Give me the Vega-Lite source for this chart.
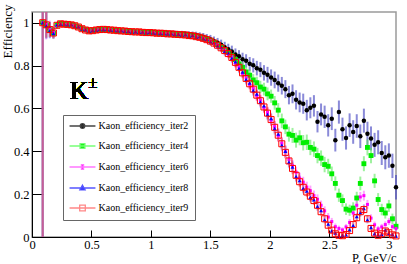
{
"$schema":"https://vega.github.io/schema/vega-lite/v6.json",
"width":364,"height":225,
"autosize":"none",
"padding":{"left":32,"top":12,"right":11,"bottom":27},
"background":"white",
"config":{
 "font":"Liberation Serif",
 "view":{"stroke":"#9a9a9a","strokeWidth":1.5},
 "axis":{"labelFont":"Liberation Serif","titleFont":"Liberation Serif","labelColor":"black","titleColor":"black","domainColor":"black","tickColor":"black","grid":false,"titleFontWeight":"normal","labelFontSize":12.5,"titleFontSize":12.5,"labelFlush":false,"labelOverlap":false},
 "legend":{"orient":"none","legendX":31,"legendY":103,"title":null,"padding":6,"strokeColor":"#666","fillColor":"white","labelFont":"Liberation Serif","labelFontSize":10,"labelColor":"black","rowPadding":9,"symbolSize":49,"symbolOffset":8.5,"labelOffset":11,"symbolStrokeWidth":1.3,"symbolOpacity":1}
},
"datasets":{"d":[
{"s":2,"x":0.09,"y":1.000,"e":1.0},{"s":2,"x":0.12,"y":0.991,"e":0.06},{"s":2,"x":0.15,"y":0.969,"e":0.035},{"s":2,"x":0.18,"y":0.953,"e":0.025},{"s":2,"x":0.21,"y":0.988,"e":0.014},{"s":2,"x":0.24,"y":0.996,"e":0.012},{"s":2,"x":0.27,"y":0.993,"e":0.011},{"s":2,"x":0.30,"y":0.992,"e":0.01},{"s":2,"x":0.33,"y":0.991,"e":0.01},{"s":2,"x":0.36,"y":0.986,"e":0.01},
{"s":2,"x":0.39,"y":0.981,"e":0.009},{"s":2,"x":0.42,"y":0.973,"e":0.009},{"s":2,"x":0.45,"y":0.967,"e":0.008},{"s":2,"x":0.48,"y":0.963,"e":0.008},{"s":2,"x":0.51,"y":0.964,"e":0.008},{"s":2,"x":0.54,"y":0.967,"e":0.008},{"s":2,"x":0.57,"y":0.969,"e":0.008},{"s":2,"x":0.60,"y":0.970,"e":0.008},{"s":2,"x":0.63,"y":0.969,"e":0.008},{"s":2,"x":0.66,"y":0.967,"e":0.008},
{"s":2,"x":0.69,"y":0.966,"e":0.008},{"s":2,"x":0.72,"y":0.964,"e":0.008},{"s":2,"x":0.75,"y":0.963,"e":0.008},{"s":2,"x":0.78,"y":0.962,"e":0.008},{"s":2,"x":0.81,"y":0.960,"e":0.008},{"s":2,"x":0.84,"y":0.959,"e":0.009},{"s":2,"x":0.87,"y":0.958,"e":0.009},{"s":2,"x":0.90,"y":0.958,"e":0.009},{"s":2,"x":0.93,"y":0.957,"e":0.009},{"s":2,"x":0.96,"y":0.956,"e":0.009},
{"s":2,"x":0.99,"y":0.956,"e":0.01},{"s":2,"x":1.02,"y":0.955,"e":0.01},{"s":2,"x":1.05,"y":0.954,"e":0.01},{"s":2,"x":1.08,"y":0.954,"e":0.011},{"s":2,"x":1.11,"y":0.953,"e":0.011},{"s":2,"x":1.14,"y":0.952,"e":0.012},{"s":2,"x":1.17,"y":0.951,"e":0.012},{"s":2,"x":1.20,"y":0.950,"e":0.013},{"s":2,"x":1.23,"y":0.949,"e":0.013},{"s":2,"x":1.26,"y":0.948,"e":0.014},
{"s":2,"x":1.29,"y":0.947,"e":0.014},{"s":2,"x":1.32,"y":0.945,"e":0.015},{"s":2,"x":1.35,"y":0.943,"e":0.016},{"s":2,"x":1.38,"y":0.941,"e":0.017},{"s":2,"x":1.41,"y":0.937,"e":0.018},{"s":2,"x":1.44,"y":0.933,"e":0.019},{"s":2,"x":1.47,"y":0.927,"e":0.02},{"s":2,"x":1.50,"y":0.922,"e":0.021},{"s":2,"x":1.53,"y":0.914,"e":0.022},{"s":2,"x":1.56,"y":0.906,"e":0.023},
{"s":2,"x":1.59,"y":0.897,"e":0.024},{"s":2,"x":1.62,"y":0.886,"e":0.025},{"s":2,"x":1.65,"y":0.876,"e":0.026},{"s":2,"x":1.68,"y":0.866,"e":0.027},{"s":2,"x":1.71,"y":0.852,"e":0.028},{"s":2,"x":1.74,"y":0.843,"e":0.029},{"s":2,"x":1.77,"y":0.830,"e":0.03},{"s":2,"x":1.80,"y":0.822,"e":0.031},{"s":2,"x":1.83,"y":0.808,"e":0.032},{"s":2,"x":1.86,"y":0.801,"e":0.033},
{"s":2,"x":1.89,"y":0.788,"e":0.034},{"s":2,"x":1.92,"y":0.781,"e":0.035},{"s":2,"x":1.95,"y":0.766,"e":0.036},{"s":2,"x":1.98,"y":0.757,"e":0.037},{"s":2,"x":2.01,"y":0.744,"e":0.038},{"s":2,"x":2.04,"y":0.733,"e":0.039},{"s":2,"x":2.07,"y":0.718,"e":0.04},{"s":2,"x":2.10,"y":0.706,"e":0.041},{"s":2,"x":2.13,"y":0.690,"e":0.042},{"s":2,"x":2.16,"y":0.662,"e":0.043},
{"s":2,"x":2.19,"y":0.668,"e":0.044},{"s":2,"x":2.22,"y":0.640,"e":0.045},{"s":2,"x":2.25,"y":0.628,"e":0.046},{"s":2,"x":2.28,"y":0.622,"e":0.047},{"s":2,"x":2.31,"y":0.592,"e":0.048},{"s":2,"x":2.34,"y":0.603,"e":0.049},{"s":2,"x":2.37,"y":0.612,"e":0.05},{"s":2,"x":2.40,"y":0.538,"e":0.05},{"s":2,"x":2.43,"y":0.572,"e":0.051},{"s":2,"x":2.46,"y":0.561,"e":0.052},
{"s":2,"x":2.49,"y":0.521,"e":0.052},{"s":2,"x":2.52,"y":0.552,"e":0.053},{"s":2,"x":2.55,"y":0.452,"e":0.053},{"s":2,"x":2.58,"y":0.583,"e":0.054},{"s":2,"x":2.61,"y":0.503,"e":0.054},{"s":2,"x":2.64,"y":0.462,"e":0.054},{"s":2,"x":2.67,"y":0.522,"e":0.055},{"s":2,"x":2.70,"y":0.490,"e":0.055},{"s":2,"x":2.73,"y":0.518,"e":0.055},{"s":2,"x":2.76,"y":0.470,"e":0.055},
{"s":2,"x":2.79,"y":0.543,"e":0.056},{"s":2,"x":2.82,"y":0.482,"e":0.056},{"s":2,"x":2.85,"y":0.460,"e":0.056},{"s":2,"x":2.88,"y":0.430,"e":0.056},{"s":2,"x":2.91,"y":0.442,"e":0.056},{"s":2,"x":2.94,"y":0.392,"e":0.056},{"s":2,"x":2.97,"y":0.372,"e":0.056},{"s":2,"x":3.00,"y":0.380,"e":0.057},{"s":2,"x":3.03,"y":0.332,"e":0.057},{"s":2,"x":3.06,"y":0.232,"e":0.057},
{"s":4,"x":0.09,"y":1.000,"e":1.0},{"s":4,"x":0.12,"y":0.988,"e":0.06},{"s":4,"x":0.15,"y":0.966,"e":0.036},{"s":4,"x":0.18,"y":0.951,"e":0.025},{"s":4,"x":0.21,"y":0.989,"e":0.014},{"s":4,"x":0.24,"y":0.996,"e":0.012},{"s":4,"x":0.27,"y":0.992,"e":0.011},{"s":4,"x":0.30,"y":0.991,"e":0.01},{"s":4,"x":0.33,"y":0.990,"e":0.01},{"s":4,"x":0.36,"y":0.985,"e":0.01},
{"s":4,"x":0.39,"y":0.980,"e":0.009},{"s":4,"x":0.42,"y":0.971,"e":0.009},{"s":4,"x":0.45,"y":0.967,"e":0.008},{"s":4,"x":0.48,"y":0.961,"e":0.008},{"s":4,"x":0.51,"y":0.963,"e":0.008},{"s":4,"x":0.54,"y":0.965,"e":0.008},{"s":4,"x":0.57,"y":0.968,"e":0.008},{"s":4,"x":0.60,"y":0.968,"e":0.008},{"s":4,"x":0.63,"y":0.968,"e":0.008},{"s":4,"x":0.66,"y":0.966,"e":0.008},
{"s":4,"x":0.69,"y":0.964,"e":0.008},{"s":4,"x":0.72,"y":0.963,"e":0.008},{"s":4,"x":0.75,"y":0.962,"e":0.008},{"s":4,"x":0.78,"y":0.961,"e":0.008},{"s":4,"x":0.81,"y":0.959,"e":0.008},{"s":4,"x":0.84,"y":0.958,"e":0.008},{"s":4,"x":0.87,"y":0.957,"e":0.008},{"s":4,"x":0.90,"y":0.956,"e":0.008},{"s":4,"x":0.93,"y":0.955,"e":0.009},{"s":4,"x":0.96,"y":0.954,"e":0.009},
{"s":4,"x":0.99,"y":0.953,"e":0.009},{"s":4,"x":1.02,"y":0.953,"e":0.009},{"s":4,"x":1.05,"y":0.951,"e":0.009},{"s":4,"x":1.08,"y":0.950,"e":0.01},{"s":4,"x":1.11,"y":0.950,"e":0.01},{"s":4,"x":1.14,"y":0.948,"e":0.01},{"s":4,"x":1.17,"y":0.947,"e":0.01},{"s":4,"x":1.20,"y":0.946,"e":0.011},{"s":4,"x":1.23,"y":0.945,"e":0.011},{"s":4,"x":1.26,"y":0.944,"e":0.012},
{"s":4,"x":1.29,"y":0.943,"e":0.012},{"s":4,"x":1.32,"y":0.940,"e":0.013},{"s":4,"x":1.35,"y":0.939,"e":0.013},{"s":4,"x":1.38,"y":0.936,"e":0.014},{"s":4,"x":1.41,"y":0.933,"e":0.014},{"s":4,"x":1.44,"y":0.928,"e":0.015},{"s":4,"x":1.47,"y":0.922,"e":0.016},{"s":4,"x":1.50,"y":0.916,"e":0.017},{"s":4,"x":1.53,"y":0.907,"e":0.018},{"s":4,"x":1.56,"y":0.898,"e":0.018},
{"s":4,"x":1.59,"y":0.887,"e":0.019},{"s":4,"x":1.62,"y":0.875,"e":0.02},{"s":4,"x":1.65,"y":0.862,"e":0.02},{"s":4,"x":1.68,"y":0.846,"e":0.021},{"s":4,"x":1.71,"y":0.828,"e":0.022},{"s":4,"x":1.74,"y":0.808,"e":0.023},{"s":4,"x":1.77,"y":0.792,"e":0.024},{"s":4,"x":1.80,"y":0.770,"e":0.025},{"s":4,"x":1.83,"y":0.755,"e":0.026},{"s":4,"x":1.86,"y":0.733,"e":0.027},
{"s":4,"x":1.89,"y":0.720,"e":0.028},{"s":4,"x":1.92,"y":0.700,"e":0.029},{"s":4,"x":1.95,"y":0.690,"e":0.03},{"s":4,"x":1.98,"y":0.668,"e":0.03},{"s":4,"x":2.01,"y":0.657,"e":0.031},{"s":4,"x":2.04,"y":0.626,"e":0.032},{"s":4,"x":2.07,"y":0.592,"e":0.033},{"s":4,"x":2.10,"y":0.542,"e":0.034},{"s":4,"x":2.13,"y":0.514,"e":0.034},{"s":4,"x":2.16,"y":0.480,"e":0.035},
{"s":4,"x":2.19,"y":0.474,"e":0.035},{"s":4,"x":2.22,"y":0.452,"e":0.035},{"s":4,"x":2.25,"y":0.463,"e":0.035},{"s":4,"x":2.28,"y":0.440,"e":0.036},{"s":4,"x":2.31,"y":0.442,"e":0.036},{"s":4,"x":2.34,"y":0.418,"e":0.036},{"s":4,"x":2.37,"y":0.410,"e":0.036},{"s":4,"x":2.40,"y":0.380,"e":0.036},{"s":4,"x":2.43,"y":0.368,"e":0.036},{"s":4,"x":2.46,"y":0.338,"e":0.036},
{"s":4,"x":2.49,"y":0.330,"e":0.035},{"s":4,"x":2.52,"y":0.295,"e":0.034},{"s":4,"x":2.55,"y":0.250,"e":0.033},{"s":4,"x":2.58,"y":0.195,"e":0.031},{"s":4,"x":2.61,"y":0.170,"e":0.029},{"s":4,"x":2.64,"y":0.130,"e":0.027},{"s":4,"x":2.67,"y":0.125,"e":0.026},{"s":4,"x":2.70,"y":0.135,"e":0.027},{"s":4,"x":2.73,"y":0.182,"e":0.029},{"s":4,"x":2.76,"y":0.250,"e":0.032},
{"s":4,"x":2.79,"y":0.342,"e":0.035},{"s":4,"x":2.82,"y":0.418,"e":0.037},{"s":4,"x":2.85,"y":0.380,"e":0.036},{"s":4,"x":2.88,"y":0.262,"e":0.033},{"s":4,"x":2.91,"y":0.175,"e":0.03},{"s":4,"x":2.94,"y":0.128,"e":0.027},{"s":4,"x":2.97,"y":0.112,"e":0.026},{"s":4,"x":3.00,"y":0.145,"e":0.028},{"s":4,"x":3.03,"y":0.085,"e":0.024},{"s":4,"x":3.06,"y":0.050,"e":0.02},
{"s":6,"x":0.09,"y":1.000,"e":1.0},{"s":6,"x":0.12,"y":0.992,"e":0.07},{"s":6,"x":0.15,"y":0.970,"e":0.04},{"s":6,"x":0.18,"y":0.955,"e":0.027},{"s":6,"x":0.21,"y":0.986,"e":0.015},{"s":6,"x":0.24,"y":0.994,"e":0.012},{"s":6,"x":0.27,"y":0.992,"e":0.011},{"s":6,"x":0.30,"y":0.993,"e":0.01},{"s":6,"x":0.33,"y":0.989,"e":0.01},{"s":6,"x":0.36,"y":0.987,"e":0.01},
{"s":6,"x":0.39,"y":0.979,"e":0.009},{"s":6,"x":0.42,"y":0.973,"e":0.009},{"s":6,"x":0.45,"y":0.965,"e":0.008},{"s":6,"x":0.48,"y":0.963,"e":0.008},{"s":6,"x":0.51,"y":0.962,"e":0.008},{"s":6,"x":0.54,"y":0.967,"e":0.008},{"s":6,"x":0.57,"y":0.967,"e":0.008},{"s":6,"x":0.60,"y":0.970,"e":0.008},{"s":6,"x":0.63,"y":0.967,"e":0.008},{"s":6,"x":0.66,"y":0.967,"e":0.008},
{"s":6,"x":0.69,"y":0.964,"e":0.008},{"s":6,"x":0.72,"y":0.964,"e":0.008},{"s":6,"x":0.75,"y":0.961,"e":0.008},{"s":6,"x":0.78,"y":0.962,"e":0.008},{"s":6,"x":0.81,"y":0.958,"e":0.008},{"s":6,"x":0.84,"y":0.959,"e":0.008},{"s":6,"x":0.87,"y":0.956,"e":0.008},{"s":6,"x":0.90,"y":0.958,"e":0.008},{"s":6,"x":0.93,"y":0.954,"e":0.009},{"s":6,"x":0.96,"y":0.955,"e":0.009},
{"s":6,"x":0.99,"y":0.953,"e":0.009},{"s":6,"x":1.02,"y":0.954,"e":0.009},{"s":6,"x":1.05,"y":0.950,"e":0.009},{"s":6,"x":1.08,"y":0.952,"e":0.01},{"s":6,"x":1.11,"y":0.949,"e":0.01},{"s":6,"x":1.14,"y":0.949,"e":0.01},{"s":6,"x":1.17,"y":0.947,"e":0.01},{"s":6,"x":1.20,"y":0.947,"e":0.011},{"s":6,"x":1.23,"y":0.944,"e":0.011},{"s":6,"x":1.26,"y":0.945,"e":0.012},
{"s":6,"x":1.29,"y":0.942,"e":0.012},{"s":6,"x":1.32,"y":0.941,"e":0.013},{"s":6,"x":1.35,"y":0.937,"e":0.013},{"s":6,"x":1.38,"y":0.936,"e":0.014},{"s":6,"x":1.41,"y":0.930,"e":0.014},{"s":6,"x":1.44,"y":0.928,"e":0.015},{"s":6,"x":1.47,"y":0.919,"e":0.016},{"s":6,"x":1.50,"y":0.916,"e":0.017},{"s":6,"x":1.53,"y":0.903,"e":0.018},{"s":6,"x":1.56,"y":0.897,"e":0.018},
{"s":6,"x":1.59,"y":0.881,"e":0.019},{"s":6,"x":1.62,"y":0.872,"e":0.02},{"s":6,"x":1.65,"y":0.853,"e":0.02},{"s":6,"x":1.68,"y":0.841,"e":0.021},{"s":6,"x":1.71,"y":0.812,"e":0.022},{"s":6,"x":1.74,"y":0.795,"e":0.022},{"s":6,"x":1.77,"y":0.763,"e":0.023},{"s":6,"x":1.80,"y":0.743,"e":0.024},{"s":6,"x":1.83,"y":0.712,"e":0.024},{"s":6,"x":1.86,"y":0.693,"e":0.025},
{"s":6,"x":1.89,"y":0.659,"e":0.025},{"s":6,"x":1.92,"y":0.639,"e":0.026},{"s":6,"x":1.95,"y":0.604,"e":0.026},{"s":6,"x":1.98,"y":0.581,"e":0.027},{"s":6,"x":2.01,"y":0.545,"e":0.027},{"s":6,"x":2.04,"y":0.515,"e":0.028},{"s":6,"x":2.07,"y":0.472,"e":0.028},{"s":6,"x":2.10,"y":0.438,"e":0.028},{"s":6,"x":2.13,"y":0.398,"e":0.028},{"s":6,"x":2.16,"y":0.362,"e":0.028},
{"s":6,"x":2.19,"y":0.333,"e":0.027},{"s":6,"x":2.22,"y":0.302,"e":0.026},{"s":6,"x":2.25,"y":0.274,"e":0.026},{"s":6,"x":2.28,"y":0.256,"e":0.025},{"s":6,"x":2.31,"y":0.233,"e":0.025},{"s":6,"x":2.34,"y":0.216,"e":0.024},{"s":6,"x":2.37,"y":0.193,"e":0.024},{"s":6,"x":2.40,"y":0.176,"e":0.023},{"s":6,"x":2.43,"y":0.148,"e":0.022},{"s":6,"x":2.46,"y":0.122,"e":0.021},
{"s":6,"x":2.49,"y":0.093,"e":0.019},{"s":6,"x":2.52,"y":0.072,"e":0.017},{"s":6,"x":2.55,"y":0.048,"e":0.015},{"s":6,"x":2.58,"y":0.040,"e":0.013},{"s":6,"x":2.61,"y":0.033,"e":0.012},{"s":6,"x":2.64,"y":0.047,"e":0.013},{"s":6,"x":2.67,"y":0.068,"e":0.016},{"s":6,"x":2.70,"y":0.112,"e":0.019},{"s":6,"x":2.73,"y":0.148,"e":0.021},{"s":6,"x":2.76,"y":0.187,"e":0.023},
{"s":6,"x":2.79,"y":0.193,"e":0.023},{"s":6,"x":2.82,"y":0.152,"e":0.021},{"s":6,"x":2.85,"y":0.088,"e":0.018},{"s":6,"x":2.88,"y":0.057,"e":0.015},{"s":6,"x":2.91,"y":0.038,"e":0.013},{"s":6,"x":2.94,"y":0.047,"e":0.014},{"s":6,"x":2.97,"y":0.058,"e":0.015},{"s":6,"x":3.00,"y":0.072,"e":0.016},{"s":6,"x":3.03,"y":0.048,"e":0.014},{"s":6,"x":3.06,"y":0.040,"e":0.013},
{"s":8,"x":0.09,"y":1.000,"e":1.0},{"s":8,"x":0.12,"y":0.985,"e":0.06},{"s":8,"x":0.15,"y":0.962,"e":0.035},{"s":8,"x":0.18,"y":0.950,"e":0.025},{"s":8,"x":0.21,"y":0.990,"e":0.014},{"s":8,"x":0.24,"y":0.993,"e":0.012},{"s":8,"x":0.27,"y":0.994,"e":0.011},{"s":8,"x":0.30,"y":0.990,"e":0.01},{"s":8,"x":0.33,"y":0.991,"e":0.01},{"s":8,"x":0.36,"y":0.984,"e":0.01},
{"s":8,"x":0.39,"y":0.981,"e":0.009},{"s":8,"x":0.42,"y":0.970,"e":0.009},{"s":8,"x":0.45,"y":0.967,"e":0.008},{"s":8,"x":0.48,"y":0.960,"e":0.008},{"s":8,"x":0.51,"y":0.964,"e":0.008},{"s":8,"x":0.54,"y":0.965,"e":0.008},{"s":8,"x":0.57,"y":0.969,"e":0.008},{"s":8,"x":0.60,"y":0.967,"e":0.008},{"s":8,"x":0.63,"y":0.969,"e":0.008},{"s":8,"x":0.66,"y":0.965,"e":0.008},
{"s":8,"x":0.69,"y":0.966,"e":0.008},{"s":8,"x":0.72,"y":0.962,"e":0.008},{"s":8,"x":0.75,"y":0.963,"e":0.008},{"s":8,"x":0.78,"y":0.960,"e":0.008},{"s":8,"x":0.81,"y":0.960,"e":0.008},{"s":8,"x":0.84,"y":0.957,"e":0.008},{"s":8,"x":0.87,"y":0.958,"e":0.008},{"s":8,"x":0.90,"y":0.955,"e":0.008},{"s":8,"x":0.93,"y":0.956,"e":0.009},{"s":8,"x":0.96,"y":0.953,"e":0.009},
{"s":8,"x":0.99,"y":0.955,"e":0.009},{"s":8,"x":1.02,"y":0.952,"e":0.009},{"s":8,"x":1.05,"y":0.952,"e":0.009},{"s":8,"x":1.08,"y":0.949,"e":0.01},{"s":8,"x":1.11,"y":0.951,"e":0.01},{"s":8,"x":1.14,"y":0.947,"e":0.01},{"s":8,"x":1.17,"y":0.949,"e":0.01},{"s":8,"x":1.20,"y":0.945,"e":0.011},{"s":8,"x":1.23,"y":0.946,"e":0.011},{"s":8,"x":1.26,"y":0.942,"e":0.012},
{"s":8,"x":1.29,"y":0.945,"e":0.012},{"s":8,"x":1.32,"y":0.938,"e":0.013},{"s":8,"x":1.35,"y":0.941,"e":0.013},{"s":8,"x":1.38,"y":0.933,"e":0.014},{"s":8,"x":1.41,"y":0.935,"e":0.014},{"s":8,"x":1.44,"y":0.925,"e":0.015},{"s":8,"x":1.47,"y":0.923,"e":0.016},{"s":8,"x":1.50,"y":0.911,"e":0.017},{"s":8,"x":1.53,"y":0.907,"e":0.018},{"s":8,"x":1.56,"y":0.892,"e":0.018},
{"s":8,"x":1.59,"y":0.886,"e":0.019},{"s":8,"x":1.62,"y":0.866,"e":0.02},{"s":8,"x":1.65,"y":0.859,"e":0.02},{"s":8,"x":1.68,"y":0.834,"e":0.021},{"s":8,"x":1.71,"y":0.818,"e":0.022},{"s":8,"x":1.74,"y":0.787,"e":0.022},{"s":8,"x":1.77,"y":0.770,"e":0.023},{"s":8,"x":1.80,"y":0.735,"e":0.024},{"s":8,"x":1.83,"y":0.719,"e":0.024},{"s":8,"x":1.86,"y":0.684,"e":0.025},
{"s":8,"x":1.89,"y":0.667,"e":0.025},{"s":8,"x":1.92,"y":0.630,"e":0.026},{"s":8,"x":1.95,"y":0.612,"e":0.026},{"s":8,"x":1.98,"y":0.572,"e":0.027},{"s":8,"x":2.01,"y":0.553,"e":0.027},{"s":8,"x":2.04,"y":0.506,"e":0.028},{"s":8,"x":2.07,"y":0.480,"e":0.028},{"s":8,"x":2.10,"y":0.428,"e":0.028},{"s":8,"x":2.13,"y":0.400,"e":0.028},{"s":8,"x":2.16,"y":0.349,"e":0.028},
{"s":8,"x":2.19,"y":0.326,"e":0.027},{"s":8,"x":2.22,"y":0.282,"e":0.026},{"s":8,"x":2.25,"y":0.263,"e":0.025},{"s":8,"x":2.28,"y":0.227,"e":0.024},{"s":8,"x":2.31,"y":0.214,"e":0.023},{"s":8,"x":2.34,"y":0.185,"e":0.022},{"s":8,"x":2.37,"y":0.174,"e":0.021},{"s":8,"x":2.40,"y":0.142,"e":0.02},{"s":8,"x":2.43,"y":0.123,"e":0.019},{"s":8,"x":2.46,"y":0.080,"e":0.017},
{"s":8,"x":2.49,"y":0.060,"e":0.015},{"s":8,"x":2.52,"y":0.028,"e":0.012},{"s":8,"x":2.55,"y":0.018,"e":0.01},{"s":8,"x":2.58,"y":0.006,"e":0.008},{"s":8,"x":2.61,"y":0.008,"e":0.007},{"s":8,"x":2.64,"y":0.010,"e":0.008},{"s":8,"x":2.67,"y":0.034,"e":0.011},{"s":8,"x":2.70,"y":0.054,"e":0.014},{"s":8,"x":2.73,"y":0.095,"e":0.017},{"s":8,"x":2.76,"y":0.113,"e":0.019},
{"s":8,"x":2.79,"y":0.133,"e":0.02},{"s":8,"x":2.82,"y":0.080,"e":0.017},{"s":8,"x":2.85,"y":0.044,"e":0.013},{"s":8,"x":2.88,"y":0.015,"e":0.01},{"s":8,"x":2.91,"y":0.010,"e":0.008},{"s":8,"x":2.94,"y":0.012,"e":0.009},{"s":8,"x":2.97,"y":0.032,"e":0.011},{"s":8,"x":3.00,"y":0.017,"e":0.01},{"s":8,"x":3.03,"y":0.012,"e":0.008},{"s":8,"x":3.06,"y":0.004,"e":0.006},
{"s":9,"x":0.09,"y":1.000,"e":1.0},{"s":9,"x":0.12,"y":0.990,"e":0.06},{"s":9,"x":0.15,"y":0.968,"e":0.035},{"s":9,"x":0.18,"y":0.952,"e":0.025},{"s":9,"x":0.21,"y":0.988,"e":0.014},{"s":9,"x":0.24,"y":0.995,"e":0.012},{"s":9,"x":0.27,"y":0.993,"e":0.011},{"s":9,"x":0.30,"y":0.992,"e":0.01},{"s":9,"x":0.33,"y":0.990,"e":0.01},{"s":9,"x":0.36,"y":0.986,"e":0.01},
{"s":9,"x":0.39,"y":0.980,"e":0.009},{"s":9,"x":0.42,"y":0.972,"e":0.009},{"s":9,"x":0.45,"y":0.966,"e":0.008},{"s":9,"x":0.48,"y":0.962,"e":0.008},{"s":9,"x":0.51,"y":0.963,"e":0.008},{"s":9,"x":0.54,"y":0.966,"e":0.008},{"s":9,"x":0.57,"y":0.968,"e":0.008},{"s":9,"x":0.60,"y":0.969,"e":0.008},{"s":9,"x":0.63,"y":0.968,"e":0.008},{"s":9,"x":0.66,"y":0.966,"e":0.008},
{"s":9,"x":0.69,"y":0.965,"e":0.008},{"s":9,"x":0.72,"y":0.963,"e":0.008},{"s":9,"x":0.75,"y":0.962,"e":0.008},{"s":9,"x":0.78,"y":0.961,"e":0.008},{"s":9,"x":0.81,"y":0.959,"e":0.008},{"s":9,"x":0.84,"y":0.958,"e":0.008},{"s":9,"x":0.87,"y":0.957,"e":0.008},{"s":9,"x":0.90,"y":0.957,"e":0.008},{"s":9,"x":0.93,"y":0.955,"e":0.009},{"s":9,"x":0.96,"y":0.954,"e":0.009},
{"s":9,"x":0.99,"y":0.954,"e":0.009},{"s":9,"x":1.02,"y":0.953,"e":0.009},{"s":9,"x":1.05,"y":0.951,"e":0.009},{"s":9,"x":1.08,"y":0.951,"e":0.01},{"s":9,"x":1.11,"y":0.950,"e":0.01},{"s":9,"x":1.14,"y":0.948,"e":0.01},{"s":9,"x":1.17,"y":0.948,"e":0.01},{"s":9,"x":1.20,"y":0.946,"e":0.011},{"s":9,"x":1.23,"y":0.945,"e":0.011},{"s":9,"x":1.26,"y":0.944,"e":0.012},
{"s":9,"x":1.29,"y":0.943,"e":0.012},{"s":9,"x":1.32,"y":0.940,"e":0.013},{"s":9,"x":1.35,"y":0.939,"e":0.013},{"s":9,"x":1.38,"y":0.935,"e":0.014},{"s":9,"x":1.41,"y":0.932,"e":0.014},{"s":9,"x":1.44,"y":0.927,"e":0.015},{"s":9,"x":1.47,"y":0.921,"e":0.016},{"s":9,"x":1.50,"y":0.914,"e":0.017},{"s":9,"x":1.53,"y":0.905,"e":0.018},{"s":9,"x":1.56,"y":0.895,"e":0.018},
{"s":9,"x":1.59,"y":0.883,"e":0.019},{"s":9,"x":1.62,"y":0.870,"e":0.02},{"s":9,"x":1.65,"y":0.856,"e":0.02},{"s":9,"x":1.68,"y":0.838,"e":0.021},{"s":9,"x":1.71,"y":0.815,"e":0.022},{"s":9,"x":1.74,"y":0.792,"e":0.022},{"s":9,"x":1.77,"y":0.766,"e":0.023},{"s":9,"x":1.80,"y":0.740,"e":0.024},{"s":9,"x":1.83,"y":0.715,"e":0.024},{"s":9,"x":1.86,"y":0.690,"e":0.025},
{"s":9,"x":1.89,"y":0.662,"e":0.025},{"s":9,"x":1.92,"y":0.636,"e":0.026},{"s":9,"x":1.95,"y":0.607,"e":0.026},{"s":9,"x":1.98,"y":0.578,"e":0.027},{"s":9,"x":2.01,"y":0.548,"e":0.027},{"s":9,"x":2.04,"y":0.512,"e":0.028},{"s":9,"x":2.07,"y":0.475,"e":0.028},{"s":9,"x":2.10,"y":0.435,"e":0.028},{"s":9,"x":2.13,"y":0.395,"e":0.028},{"s":9,"x":2.16,"y":0.355,"e":0.028},
{"s":9,"x":2.19,"y":0.320,"e":0.027},{"s":9,"x":2.22,"y":0.288,"e":0.026},{"s":9,"x":2.25,"y":0.258,"e":0.025},{"s":9,"x":2.28,"y":0.232,"e":0.024},{"s":9,"x":2.31,"y":0.210,"e":0.023},{"s":9,"x":2.34,"y":0.190,"e":0.022},{"s":9,"x":2.37,"y":0.170,"e":0.021},{"s":9,"x":2.40,"y":0.148,"e":0.02},{"s":9,"x":2.43,"y":0.118,"e":0.019},{"s":9,"x":2.46,"y":0.085,"e":0.017},
{"s":9,"x":2.49,"y":0.055,"e":0.015},{"s":9,"x":2.52,"y":0.032,"e":0.012},{"s":9,"x":2.55,"y":0.015,"e":0.01},{"s":9,"x":2.58,"y":0.008,"e":0.008},{"s":9,"x":2.61,"y":0.006,"e":0.007},{"s":9,"x":2.64,"y":0.012,"e":0.008},{"s":9,"x":2.67,"y":0.030,"e":0.011},{"s":9,"x":2.70,"y":0.058,"e":0.014},{"s":9,"x":2.73,"y":0.090,"e":0.017},{"s":9,"x":2.76,"y":0.118,"e":0.019},
{"s":9,"x":2.79,"y":0.128,"e":0.02},{"s":9,"x":2.82,"y":0.085,"e":0.017},{"s":9,"x":2.85,"y":0.040,"e":0.013},{"s":9,"x":2.88,"y":0.018,"e":0.01},{"s":9,"x":2.91,"y":0.008,"e":0.008},{"s":9,"x":2.94,"y":0.015,"e":0.009},{"s":9,"x":2.97,"y":0.028,"e":0.011},{"s":9,"x":3.00,"y":0.020,"e":0.01},{"s":9,"x":3.03,"y":0.010,"e":0.008},{"s":9,"x":3.06,"y":0.005,"e":0.006}
]},
"data":{"name":"d"},
"layer":[
 {"mark":{"type":"errorbar","thickness":2},
  "encoding":{
   "x":{"field":"x","type":"quantitative","scale":{"domain":[0,3.06],"nice":false,"zero":false},
        "axis":{"values":[0,0.5,1,1.5,2,2.5,3],"format":"~g","tickSize":-7,"labelPadding":8,"title":"P, GeV/c","titleAnchor":"end","titleAlign":"right","titleX":364,"titleY":24,"titleBaseline":"alphabetic"}},
   "y":{"field":"y","type":"quantitative","scale":{"domain":[0,1.05],"nice":false,"clamp":true},
        "axis":{"values":[0,0.2,0.4,0.6,0.8,1],"format":"~g","tickSize":-11,"labelPadding":14,"title":"Efficiency","titleFontSize":13,"titleAnchor":"end","titleAngle":270,"titleAlign":"right","titleBaseline":"middle","titleX":-25,"titleY":-8}},
   "yError":{"field":"e"},
   "color":{"field":"s","type":"nominal","scale":{"domain":[9,8,6,4,2],"range":["rgba(255,60,60,0.45)","rgba(110,110,255,0.45)","rgba(255,90,255,0.55)","rgba(80,230,80,0.55)","rgba(60,60,190,0.6)"]},"legend":null}
  }},
 {"transform":[{"filter":"datum.s==2"}],"mark":{"type":"point","shape":"circle","filled":true,"color":"black","size":20,"opacity":1},
  "encoding":{"x":{"field":"x","type":"quantitative"},"y":{"field":"y","type":"quantitative"}}},
 {"transform":[{"filter":"datum.s==4"}],"mark":{"type":"point","shape":"square","filled":true,"color":"#00ee00","size":24,"opacity":1},
  "encoding":{"x":{"field":"x","type":"quantitative"},"y":{"field":"y","type":"quantitative"}}},
 {"transform":[{"filter":"datum.s==6"}],"mark":{"type":"point","shape":"square","filled":true,"color":"#ff00ff","size":9,"opacity":1},
  "encoding":{"x":{"field":"x","type":"quantitative"},"y":{"field":"y","type":"quantitative"}}},
 {"transform":[{"filter":"datum.s==8"}],"mark":{"type":"point","shape":"triangle-up","filled":true,"color":"#0000ff","size":16,"opacity":1},
  "encoding":{"x":{"field":"x","type":"quantitative"},"y":{"field":"y","type":"quantitative"}}},
 {"transform":[{"filter":"datum.s==9"}],"mark":{"type":"point","shape":"square","filled":false,"color":"#ff0000","size":36,"strokeWidth":1,"opacity":1},
  "encoding":{"x":{"field":"x","type":"quantitative"},"y":{"field":"y","type":"quantitative"}}},
 {"mark":{"type":"text","text":"K","font":"Liberation Serif","fontSize":25,"fontWeight":"normal","align":"left","baseline":"alphabetic","color":"black"},
  "encoding":{"x":{"datum":0.32},"y":{"datum":0.643}}},
 {"mark":{"type":"text","text":"±","font":"Liberation Serif","fontSize":16,"fontWeight":"normal","align":"left","baseline":"alphabetic","color":"black"},
  "encoding":{"x":{"datum":0.475},"y":{"datum":0.697}}},
 {"transform":[{"filter":"datum.s>99"}],"mark":{"type":"point","opacity":1},
  "encoding":{
   "shape":{"field":"s","type":"nominal","scale":{"domain":[2,4,6,8,9],"range":[
     "M-3.7,0H3.7M-0.65,0A0.65,0.65,0,1,0,0.65,0A0.65,0.65,0,1,0,-0.65,0Z",
     "M-3.7,0H3.7M-0.7,-0.7H0.7V0.7H-0.7Z",
     "M-3.7,0H3.7M-0.3,-0.7H0.3V0.7H-0.3Z",
     "M-3.7,0H3.7M0,-0.8L0.75,0.55H-0.75Z",
     "M-3.7,0H3.7M-0.8,-0.8H0.8V0.8H-0.8Z"]},
     "legend":{"labelExpr":"'Kaon_efficiency_iter' + datum.label"}},
   "fill":{"field":"s","type":"nominal","scale":{"domain":[2,4,6,8,9],"range":["black","#00ee00","#ff00ff","#0000ff","transparent"]},"legend":{"labelExpr":"'Kaon_efficiency_iter' + datum.label"}},
   "stroke":{"field":"s","type":"nominal","scale":{"domain":[2,4,6,8,9],"range":["#444444","#77ff77","#ff77ff","#5555ff","#ff8888"]},"legend":{"labelExpr":"'Kaon_efficiency_iter' + datum.label"}}
  }}
]
}
